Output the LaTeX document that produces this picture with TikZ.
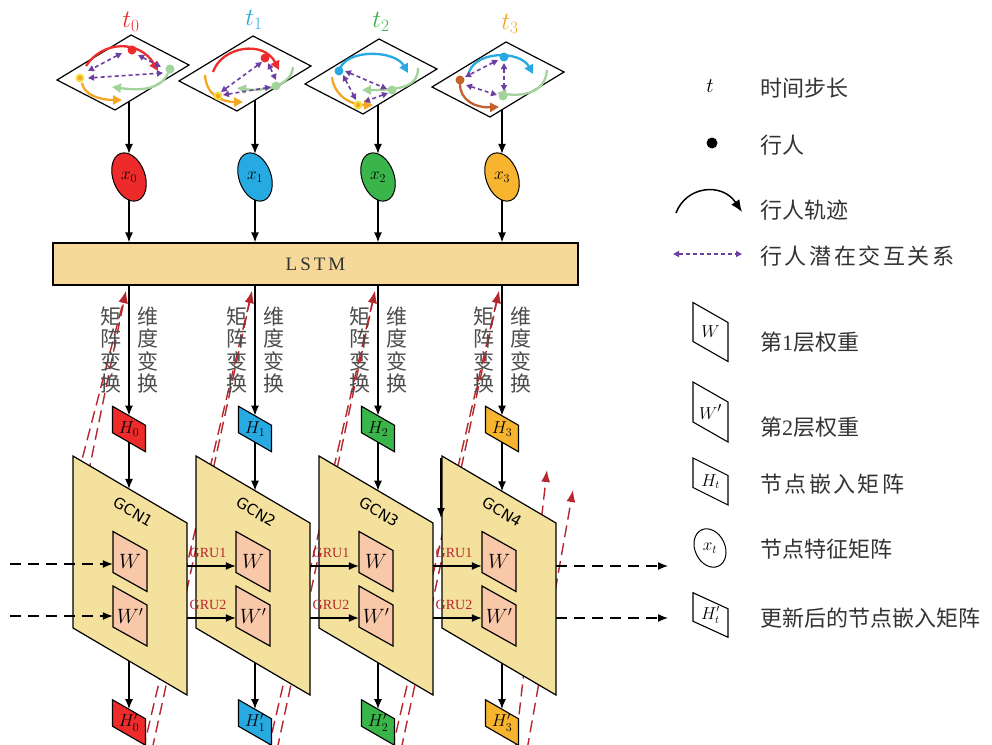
\documentclass[tikz,border=0pt]{standalone}
\usepackage{fontspec}
\setmainfont{Liberation Serif}
\newfontfamily\cjk{Noto Sans CJK SC}
\newfontfamily\gcnfont{DejaVu Sans}
\usetikzlibrary{arrows.meta,calc}

\definecolor{pRed}{HTML}{EE2B2B}
\definecolor{pBlue}{HTML}{27AAE1}
\definecolor{pGreen}{HTML}{39B54A}
\definecolor{pOrange}{HTML}{F6B42F}
\definecolor{tOrange}{HTML}{F5A623}
\definecolor{lGreen}{HTML}{A2D39B}
\definecolor{yDot}{HTML}{F4DC45}
\definecolor{brownish}{HTML}{C4622D}
\definecolor{purp}{HTML}{6E3FA3}
\definecolor{darkred}{HTML}{B5272D}
\definecolor{lstmfill}{HTML}{F6D899}
\definecolor{gcnfill}{HTML}{F4E19E}
\definecolor{wfill}{HTML}{F9C8A9}
\definecolor{txtgray}{HTML}{333333}
\definecolor{vgray}{HTML}{4D4D4D}

% slanted box: name, cx, cy, width, height, drop, style, text
\newcommand\slab[8]{%
  \draw[#7] ({#2-#4/2},{#3-#5/2-#6/2}) -- ({#2+#4/2},{#3-#5/2+#6/2})
    -- ({#2+#4/2},{#3+#5/2+#6/2}) -- ({#2-#4/2},{#3+#5/2-#6/2}) -- cycle;
  \node[minimum width=#4pt, minimum height=#5pt, inner sep=0pt] (#1) at ({#2},{#3}) {#8};}
% tilted ellipse: name, cx, cy, fill, rx, ry, text
\newcommand\tiltell[7]{%
  \draw[fill=#4, line width=1pt, rotate around={20:({#2},{#3})}] ({#2},{#3}) ellipse ({#5} and {#6});
  \node[minimum height=46pt, inner sep=0pt] (#1) at ({#2},{#3}) {#7};}
% plane of one time step
\newcommand\plane[2]{%
  \draw[line width=1.2pt, fill=white] (#1,#2) -- ++(74,-45) -- ++(58,30) -- ++(-74,45) -- cycle;}
\newcommand\msize[1]{\fontsize{#1}{#1}\selectfont}

\tikzset{
  arr/.style={line width=1.3pt, -{Latex[length=10pt,width=8pt]}},
  dasharr/.style={arr, dash pattern=on 11pt off 7pt},
  redd/.style={darkred, line width=1.4pt, dash pattern=on 12pt off 6pt, -{Latex[length=12pt,width=9pt]}},
  traj/.style={line width=2.3pt, -{Triangle[length=9pt,width=9pt]}},
  inter/.style={purp, line width=1.6pt, dash pattern=on 4pt off 3pt,
     {Triangle[length=6pt,width=6pt]}-{Triangle[length=6pt,width=6pt]}},
  ped/.style={circle, inner sep=0pt, minimum size=9pt},
  panelbox/.style={line width=1.2pt, fill=gcnfill},
  wbox/.style={line width=1.2pt, fill=wfill},
  hbox/.style={line width=1.1pt, fill=#1},
  legbox/.style={line width=1.1pt, fill=white},
  gcnlabel/.style={font=\gcnfont\msize{15}, rotate=-30.4, inner sep=0pt},
  grulabel/.style={text=darkred, font=\msize{14}, inner sep=0pt},
  vtext/.style={text=vgray, align=center, inner sep=0pt, font=\cjk\fontsize{21}{22.5}\selectfont},
  legtext/.style={anchor=west, text=txtgray, inner sep=0pt, font=\cjk\fontsize{22}{24}\selectfont},
  tlabel/.style={font=\msize{26}},
}

\begin{document}
\begin{tikzpicture}[x=1pt,y=-1pt]
\fill[white] (0,0) rectangle (992,744);
\useasboundingbox (0,0) rectangle (992,744);

% ---------- feedback paths from updated embeddings to the next LSTM step (behind panels)
\coordinate (F0) at (126,291);
\coordinate (F1) at (252,291);
\coordinate (F2) at (375,291);
\coordinate (F3) at (499,291);
\coordinate (F4a) at (547,470);
\coordinate (F4b) at (573,490);
\coordinate (s0a) at (78,475);  \coordinate (s0b) at (88,475);
\coordinate (s1a) at (143,750); \coordinate (s1b) at (152,750);
\coordinate (s2a) at (268,750); \coordinate (s2b) at (277,750);
\coordinate (s3a) at (392,750); \coordinate (s3b) at (401,750);
\coordinate (s4a) at (515,750); \coordinate (s4b) at (527,750);
\draw[redd] (s0a) -- (F0); \draw[redd] (s0b) -- (F0);
\draw[redd] (s1a) -- (F1); \draw[redd] (s1b) -- (F1);
\draw[redd] (s2a) -- (F2); \draw[redd] (s2b) -- (F2);
\draw[redd] (s3a) -- (F3); \draw[redd] (s3b) -- (F3);
\draw[redd] (s4a) -- (F4a); \draw[redd] (s4b) -- (F4b);

% ---------- time step labels
\node[tlabel, text=pRed]   (t0) at (131,22) {$t_0$};
\node[tlabel, text=pBlue]  (t1) at (254,20) {$t_1$};
\node[tlabel, text=pGreen] (t2) at (381,22) {$t_2$};
\node[tlabel, text=tOrange](t3) at (510,24) {$t_3$};

% ---------- scene planes with pedestrians, trajectories and interactions
\plane{57}{80}
\draw[traj, pRed] (86,66) .. controls (103,40) and (140,40) .. (158,71);
\draw[traj, lGreen] (168,73) .. controls (160,92) and (135,90) .. (112,87);
\draw[traj, tOrange] (82,83) .. controls (84,95) and (100,100) .. (122,100);
\draw[inter] (122,53) -- (88,71);
\draw[inter] (138,55) -- (161,67);
\draw[inter] (88,78) -- (163,73);
\node[ped, fill=pRed] (p00) at (132,50) {};
\node[ped, fill=lGreen] (p01) at (170,69) {};
\node[ped, fill=yDot] (p02) at (80,78) {};
\fill[tOrange] (p02) circle (2.2);

\plane{179}{81}
\draw[traj, pRed] (213,72) .. controls (222,46) and (264,40) .. (279,70);
\draw[traj, lGreen] (293,67) .. controls (292,85) and (265,92) .. (237,88);
\draw[traj, tOrange] (205,75) .. controls (206,95) and (222,102) .. (243,102);
\draw[inter] (262,62) -- (221,92);
\draw[inter] (268,63) -- (276,80);
\draw[inter] (223,95) -- (271,87);
\node[ped, fill=pRed] (p10) at (265,58) {};
\node[ped, fill=lGreen] (p11) at (276,86) {};
\node[ped, fill=yDot] (p12) at (218,96) {};
\fill[tOrange] (p12) circle (2.2);

\plane{305}{84}
\draw[traj, pBlue] (339,71) .. controls (345,48) and (395,50) .. (408,73);
\draw[traj, lGreen] (418,68) .. controls (418,85) and (405,90) .. (362,90);
\draw[traj, tOrange] (332,77) .. controls (334,95) and (350,105) .. (373,105);
\draw[inter] (345,71) -- (387,89);
\draw[inter] (343,75) -- (356,100);
\draw[inter] (388,93) -- (364,102);
\node[ped, fill=pBlue] (p20) at (339,71) {};
\node[ped, fill=lGreen] (p21) at (392,90) {};
\node[ped, fill=yDot] (p22) at (358,105) {};
\fill[tOrange] (p22) circle (2.2);

\plane{432}{87}
\draw[traj, pBlue] (468,76) .. controls (472,50) and (520,50) .. (533,74);
\draw[traj, lGreen] (547,70) .. controls (545,95) and (520,96) .. (497,93);
\draw[traj, brownish] (460,84) .. controls (460,100) and (475,108) .. (499,107);
\draw[inter] (498,60) -- (465,77);
\draw[inter] (504,63) -- (504,91);
\draw[inter] (466,85) -- (497,95);
\node[ped, fill=pBlue] (p30) at (504,57) {};
\node[ped, fill=lGreen] (p31) at (503,96) {};
\node[ped, fill=brownish] (p32) at (460,80) {};

% exits of the planes
\coordinate (S0) at (129,101.5);
\coordinate (S1) at (255,100);
\coordinate (S2) at (378,105);
\coordinate (S3) at (502,110);

% ---------- node feature matrices
\tiltell{X0}{129}{177}{pRed}{16}{25}{\msize{18}$x_0$}
\tiltell{X1}{255}{177}{pBlue}{16}{25}{\msize{18}$x_1$}
\tiltell{X2}{378}{177}{pGreen}{16}{25}{\msize{18}$x_2$}
\tiltell{X3}{502}{177}{pOrange}{16}{25}{\msize{18}$x_3$}

% ---------- LSTM
\node[draw, line width=1.3pt, fill=lstmfill, minimum width=525pt, minimum height=42pt,
      inner sep=0pt, text=txtgray, font=\msize{19}] (LSTM) at (315.5,264)
      {L\hspace{3pt}S\hspace{3pt}T\hspace{3pt}M};

% ---------- node embedding matrices
\slab{H0}{129}{429}{33}{26.5}{19}{hbox=pRed}{\msize{18}$H_0$}
\slab{H1}{255}{429}{33}{26.5}{19}{hbox=pBlue}{\msize{18}$H_1$}
\slab{H2}{378}{429}{33}{26.5}{19}{hbox=pGreen}{\msize{18}$H_2$}
\slab{H3}{502}{429}{33}{26.5}{19}{hbox=pOrange}{\msize{18}$H_3$}

% vertical captions
\foreach \i/\x in {0/129,1/255,2/378,3/502}{
  \node[vtext] (M\i) at ({\x-18},350) {矩\\阵\\变\\换};
  \node[vtext] (D\i) at ({\x+19},350) {维\\度\\变\\换};
}

% ---------- GCN panels
\foreach \i/\pl in {1/73,2/196,3/319,4/442}{
  \draw[panelbox] (\pl,456) -- ++(114,67) -- ++(0,172) -- ++(-114,-67) -- cycle;
  \node[gcnlabel] (G\i) at ({\pl+60},512) {GCN\i};
  \slab{W\i}{\pl+57}{561.5}{34}{41}{19}{wbox}{\msize{20}$W$}
  \slab{V\i}{\pl+57}{616}{34}{41}{19}{wbox}{\msize{20}$W'$}
  \coordinate (Ra\i) at ({\pl+114},566);
  \coordinate (Rb\i) at ({\pl+114},618);
}

% ---------- updated node embedding matrices
\slab{Q0}{129}{722.5}{33}{26.5}{19}{hbox=pRed}{\msize{18}$H'_0$}
\slab{Q1}{255}{722.5}{33}{26.5}{19}{hbox=pBlue}{\msize{18}$H'_1$}
\slab{Q2}{378}{722.5}{33}{26.5}{19}{hbox=pGreen}{\msize{18}$H'_2$}
\slab{Q3}{502}{722.5}{33}{26.5}{19}{hbox=pOrange}{\msize{18}$H'_3$}

% ---------- vertical flow
\foreach \i/\x/\pl in {0/129/73,1/255/196,2/378/319,3/502/442}{
  \draw[arr] (S\i) -- (X\i.north);
  \draw[arr] (X\i.south) -- (X\i.south |- LSTM.north);
  \draw[arr] (H\i |- LSTM.south) -- (H\i.north);
  \coordinate (T\i) at (\x,{456+(\x-\pl)*67/114});
  \coordinate (B\i) at (\x,{628+(\x-\pl)*67/114});
  \draw[arr] (H\i.south) -- (T\i);
  \draw[arr] (B\i) -- (Q\i.north);
}
\coordinate (E1) at (441,458);
\coordinate (E2) at (441,518);
\draw[arr] (E1) -- (E2);

% ---------- GRU links between panels
\foreach \a/\b/\pl in {1/2/196,2/3/319,3/4/442}{
  \draw[arr] (Ra\a) -- (Ra\a -| W\b.west);
  \draw[arr] (Rb\a) -- (Rb\a -| V\b.west);
  \node[grulabel] (GA\b) at ({\pl+12},553) {GRU1};
  \node[grulabel] (GB\b) at ({\pl+12},605) {GRU2};
}

% ---------- inputs and outputs of the GCN chain
\coordinate (InA) at (10,564);
\coordinate (InB) at (10,616);
\draw[dasharr] (InA) -- (InA -| W1.west);
\draw[dasharr] (InB) -- (InB -| V1.west);
\coordinate (OutA) at (668,566);
\coordinate (OutB) at (668,618);
\draw[dasharr] (Ra4) -- (OutA);
\draw[dasharr] (Rb4) -- (OutB);

% ---------- legend
\node[font=\msize{22}] (Lt) at (710,86) {$t$};
\node[legtext] (Lt-x) at (760,88) {时间步长};
\node[circle, fill, inner sep=0pt, minimum size=11pt] (Ld) at (712,143) {};
\node[legtext] (Ld-x) at (760,145) {行人};
\coordinate (Lc1) at (676,213);
\coordinate (Lc2) at (742,212);
\draw[line width=1.5pt, -{Latex[length=12pt,width=10pt]}] (Lc1) .. controls (686,186) and (722,182) .. (Lc2);
\node[legtext] (Lc-x) at (760,210) {行人轨迹};
\coordinate (Lp1) at (673,254);
\coordinate (Lp2) at (742,254);
\draw[inter] (Lp1) -- (Lp2);
\node[legtext] (Lp-x) at (760,256) {行\kern2.6pt 人\kern2.6pt 潜\kern2.6pt 在\kern2.6pt 交\kern2.6pt 互\kern2.6pt 关\kern2.6pt 系};
\slab{LW}{710.5}{332}{35}{39}{20}{legbox}{\msize{19}$W$}
\node[legtext] (LW-x) at (760,342) {第{\rmfamily 1}层权重};
\slab{LV}{710.5}{412}{35}{40}{20}{legbox}{\msize{19}$W'$}
\node[legtext] (LV-x) at (760,427) {第{\rmfamily 2}层权重};
\slab{LH}{710.5}{481.5}{35}{29.5}{17.5}{legbox}{\msize{16}$H_t$}
\node[legtext] (LH-x) at (760,484) {节\kern2.4pt 点\kern2.4pt 嵌\kern2.4pt 入\kern2.4pt 矩\kern2.4pt 阵};
\draw[line width=1pt, fill=white, rotate around={25:(710,548)}] (710,548) ellipse (15 and 20);
\node[inner sep=0pt] (LX) at (710,548) {\msize{17}$x_t$};
\node[legtext] (LX-x) at (760,549) {节点特征矩阵};
\slab{LQ}{710.5}{615}{35}{28.5}{16}{legbox}{\msize{16}$H'_t$}
\node[legtext] (LQ-x) at (760,618) {更新后的节点嵌入矩阵};
\end{tikzpicture}
\end{document}
